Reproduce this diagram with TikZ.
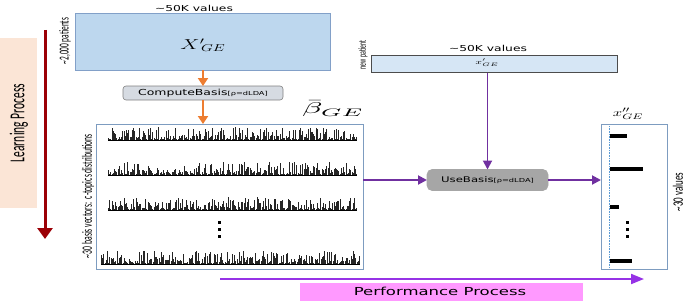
\documentclass[tikz,border=0pt]{standalone}
\usepackage{fontspec}
\usepackage{graphicx}
\setmainfont{DejaVu Sans}
\newfontfamily\narrowfont{Carlito}
\usetikzlibrary{arrows.meta}
\definecolor{bigblue}{RGB}{189,215,238}
\definecolor{bigborder}{RGB}{130,160,200}
\definecolor{npblue}{RGB}{214,230,245}
\definecolor{cbgrey}{RGB}{214,219,226}
\definecolor{ubgrey}{RGB}{166,166,166}
\definecolor{orangeC}{RGB}{237,125,49}
\definecolor{purpleC}{RGB}{112,48,160}
\definecolor{perfline}{RGB}{150,50,230}
\definecolor{perfpink}{RGB}{255,153,255}
\definecolor{peach}{RGB}{251,229,214}
\definecolor{darkredC}{RGB}{155,0,6}
\definecolor{boxborder}{RGB}{125,156,192}
\definecolor{dotblue}{RGB}{91,155,213}
\newcommand\hs[2][1.5]{\scalebox{#1}[1]{#2}}
\newcommand\vs[2][1.85]{\scalebox{1}[#1]{#2}}
\begin{document}
\begin{tikzpicture}[x=1pt,y=-1pt,
  box/.style={inner sep=0pt, outer sep=0pt},
  lbl/.style={inner sep=0pt, font=\fontsize{8.2}{10}\selectfont},
  vlbl/.style={inner sep=0pt, rotate=90},
  oarr/.style={draw=orangeC, line width=1.8pt, -{Triangle[width=10pt,length=8pt]}},
  parr/.style={draw=purpleC, line width=1.9pt, -{Triangle[width=9pt,length=9pt]}},
  sbar/.style={fill=black},
  dotsq/.style={fill=black}]
\useasboundingbox (0,0) rectangle (692,305);

% Learning process
\node[box, fill=peach, minimum width=37pt, minimum height=170pt] (LP) at (18.5,123) {};
\node[vlbl] (LPt) at (19,123) {\vs{\narrowfont\fontsize{11.5}{13}\selectfont Learning Process}};
\coordinate (ls) at (45,30);
\coordinate (le) at (45,239);
\draw[draw=darkredC, line width=3pt, -{Triangle[width=15pt,length=11pt]}] (ls) -- (le);

% Big input matrix
\node[box, fill=bigblue, draw=bigborder, line width=0.8pt, minimum width=255pt, minimum height=57pt] (X) at (202.5,41.5) {};
\node[lbl] (Xtop) at (194,8) {\hs{\textasciitilde50K values}};
\node[inner sep=0pt] (Xl) at (203,45) {\hs{\fontsize{14}{16}\selectfont$X'\!{}_{GE}$}};
\node[vlbl] (Xside) at (65,41) {\vs{\narrowfont\fontsize{7.4}{9}\selectfont \textasciitilde2,000 patients}};

% ComputeBasis
\node[box, fill=cbgrey, draw=black!50, line width=0.6pt, rounded corners=3pt, minimum width=160pt, minimum height=14pt] (CB) at (203,93)
  {\hs{\fontsize{8.3}{10}\selectfont ComputeBasis\fontsize{5.5}{7}\selectfont[ρ=dLDA]}};
\draw[oarr] (X.south -| CB.north) -- (CB.north);

% Basis box
\node[box, fill=white, draw=boxborder, line width=0.8pt, minimum width=267pt, minimum height=145pt] (BB) at (229.5,196.5) {};
\draw[oarr] (CB.south) -- (CB.south |- BB.north);
\node[inner sep=0pt] (beta) at (333,109) {\resizebox*{62pt}{16pt}{$\bar{\beta}_{GE}$}};
\node[vlbl] (BBside) at (88,196) {\vs{\narrowfont\fontsize{7.7}{9}\selectfont \textasciitilde30 basis vectors:\ \ c-topics distributions}};

% histograms
\pgfmathsetseed{7}
\foreach \base/\xa/\nn in {140/108/207, 175/108/207, 210/108/207, 264/101/215} {
  \draw[line width=0.7pt] (\xa,\base) -- (\xa+\nn*1.2+1,\base);
  \foreach \k in {0,...,\nn} {
    \pgfmathsetmacro\xx{\xa+\k*1.2}
    \pgfmathsetmacro\rr{rnd}
    \pgfmathsetmacro\hh{\rr<0.2 ? 1 : 2+11*rnd^1.6}
    \fill[black!85] (\xx,\base) rectangle ++(0.9,-\hh);
  }
}
\foreach \yy in {222,229,236} { \fill[dotsq] (218,\yy-1) rectangle ++(3,2.5); }

% new patient
\node[box, fill=npblue, draw=black!70, line width=0.7pt, minimum width=246pt, minimum height=17pt] (NP) at (494,64) {};
\node[lbl] (NPtop) at (488,48) {\hs{\textasciitilde50K values}};
\node[inner sep=0pt] (NPl) at (487,63) {\hs{\fontsize{7.5}{8}\selectfont$x'_{GE}$}};
\node[vlbl] (NPside) at (363,55) {\vs{\narrowfont\fontsize{5.8}{7}\selectfont new patient}};

% UseBasis
\node[box, fill=ubgrey, draw=black!35, line width=0.6pt, rounded corners=5pt, minimum width=121pt, minimum height=21pt] (UB) at (487.5,180)
  {\hs{\fontsize{7.8}{9}\selectfont UseBasis\fontsize{5.5}{7}\selectfont[ρ=dLDA]}};
\draw[parr] (UB.north |- NP.south) -- (UB.north);

% output vector
\node[box, fill=white, draw=boxborder, line width=0.8pt, minimum width=66pt, minimum height=145pt] (XB) at (634,196.5) {};
\draw[parr] (BB.east |- UB.west) -- (UB.west);
\draw[parr] (UB.east) -- (XB.west |- UB.east);
\node[inner sep=0pt] (XBl) at (628,114) {\hs{\fontsize{11}{12}\selectfont$x''_{GE}$}};
\coordinate (dl1) at (609,126);
\coordinate (dl2) at (609,267);
\draw[dotblue, densely dotted, line width=0.6pt] (dl1) -- (dl2);
\fill[sbar] (610,134) rectangle (627,138);
\fill[sbar] (610,167) rectangle (643,171);
\fill[sbar] (610,205) rectangle (619,209);
\fill[sbar] (610,259) rectangle (632,263);
\foreach \yy in {222,229,236} { \fill[dotsq] (626,\yy-1) rectangle ++(2.5,2.5); }
\node[vlbl] (XBside) at (678,192) {\vs[1.6]{\narrowfont\fontsize{9}{10}\selectfont \textasciitilde30 values}};

% Performance process
\node[box, fill=perfpink, minimum width=283pt, minimum height=18pt] (PP) at (441.5,291.5) {};
\node[inner sep=0pt] (PPt) at (440,291) {\hs{\fontsize{11}{13}\selectfont Performance Process}};
\coordinate (ps) at (220,279);
\coordinate (pe) at (644,279);
\draw[draw=perfline, line width=2pt, -{Triangle[width=10pt,length=13pt]}] (ps) -- (pe);
\end{tikzpicture}
\end{document}
